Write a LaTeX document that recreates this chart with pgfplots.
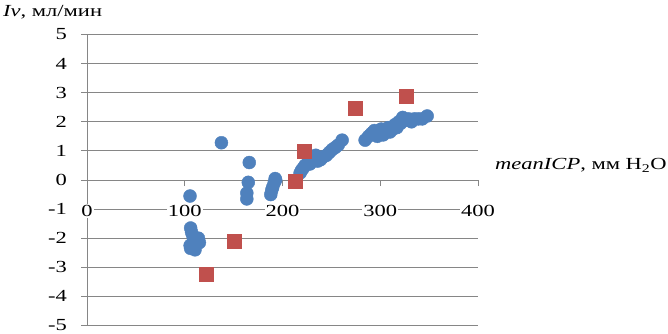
\documentclass[border=0pt]{standalone}
\usepackage{fontspec}
\setmainfont{Liberation Serif}[FakeStretch=1.33]
\usepackage{pgfplots}
\pgfplotsset{compat=1.18}
\definecolor{gridgray}{RGB}{134,134,134}
\definecolor{xblue}{RGB}{79,129,189}
\definecolor{xred}{RGB}{192,80,77}
\begin{document}
\begin{tikzpicture}[font=\fontsize{17}{20}\selectfont]
\path[use as bounding box] (0,0) rectangle (668bp,334bp);
\begin{axis}[
 at={(87bp,8.5bp)}, anchor=south west,
 scale only axis, width=391bp, height=291bp,
 xmin=0,xmax=400,ymin=-5,ymax=5,
 axis x line=middle, axis y line=left,
 axis line style={draw=gridgray, line width=0.9bp, -},
 hide obscured x ticks=false, hide obscured y ticks=false,
 xtick={0,100,200,300,400}, xticklabels={0,100,200,300,400},
 ytick={-5,-4,-3,-2,-1,0,1,2,3,4,5}, yticklabels={-5,-4,-3,-2,-1,0,1,2,3,4,5},
 ymajorgrids, grid style={draw=gridgray,line width=0.9bp},
 tick style={draw=gridgray,line width=0.9bp},
 tick align=outside, major tick length=6bp,
 xticklabel style={anchor=north, fill=white, inner sep=1bp, yshift=-18bp},
 yticklabel style={anchor=east, inner sep=0bp, xshift=-14bp},
 clip=false,
]
\addplot[only marks, mark=*, mark size=6.5bp, mark options={draw=xblue, fill=xblue}] coordinates {
(105.4,-0.55) (106,-1.65) (107,-1.8) (108.5,-1.95) (110,-2.0) (113,-2.05) (115,-2.15)
(112,-2.2) (105.5,-2.25) (108,-2.3) (110.5,-2.4) (106,-2.35) (114,-2.0)
(137.5,1.28) (166,0.6) (165,-0.08) (163.5,-0.45) (163.5,-0.65)
(192.5,0.05) (191.5,-0.1) (190,-0.25) (189,-0.35) (188,-0.5) (193,0.0)
(218,0.24) (219.6,0.34) (221,0.4) (223,0.5) (226,0.6) (228,0.55) (229,0.7) (232,0.75)
(234,0.85) (236,0.65) (238,0.75) (239,0.7) (242,0.8) (245,0.85) (248,0.95) (251,1.05)
(254,1.12) (257,1.2) (261,1.37)
(284.5,1.37) (288,1.5) (291,1.6) (294,1.7) (297,1.5) (299,1.6) (301,1.75) (303,1.55)
(305,1.7) (308,1.8) (310,1.65) (313,1.75) (315,1.9) (317,1.8) (319,2.0) (321,1.95)
(323,2.15) (326,2.05) (329,2.1) (332,2.0) (335,2.1) (339,2.1) (343,2.1) (348,2.2)
};
\addplot[only marks, mark=square*, mark size=7bp, mark options={draw=xred, fill=xred}] coordinates {
(122,-3.22) (151,-2.12) (213.5,-0.05) (222.5,1.0) (274.5,2.46) (327,2.87)
};
\end{axis}
\node[anchor=base west, inner sep=0pt] at (3bp,317bp) {\textit{Iv}, мл/мин};
\node[anchor=base west, inner sep=0pt] at (495bp,164bp) {\textit{meanICP}, мм H\textsubscript{2}O};
\end{tikzpicture}
\end{document}
